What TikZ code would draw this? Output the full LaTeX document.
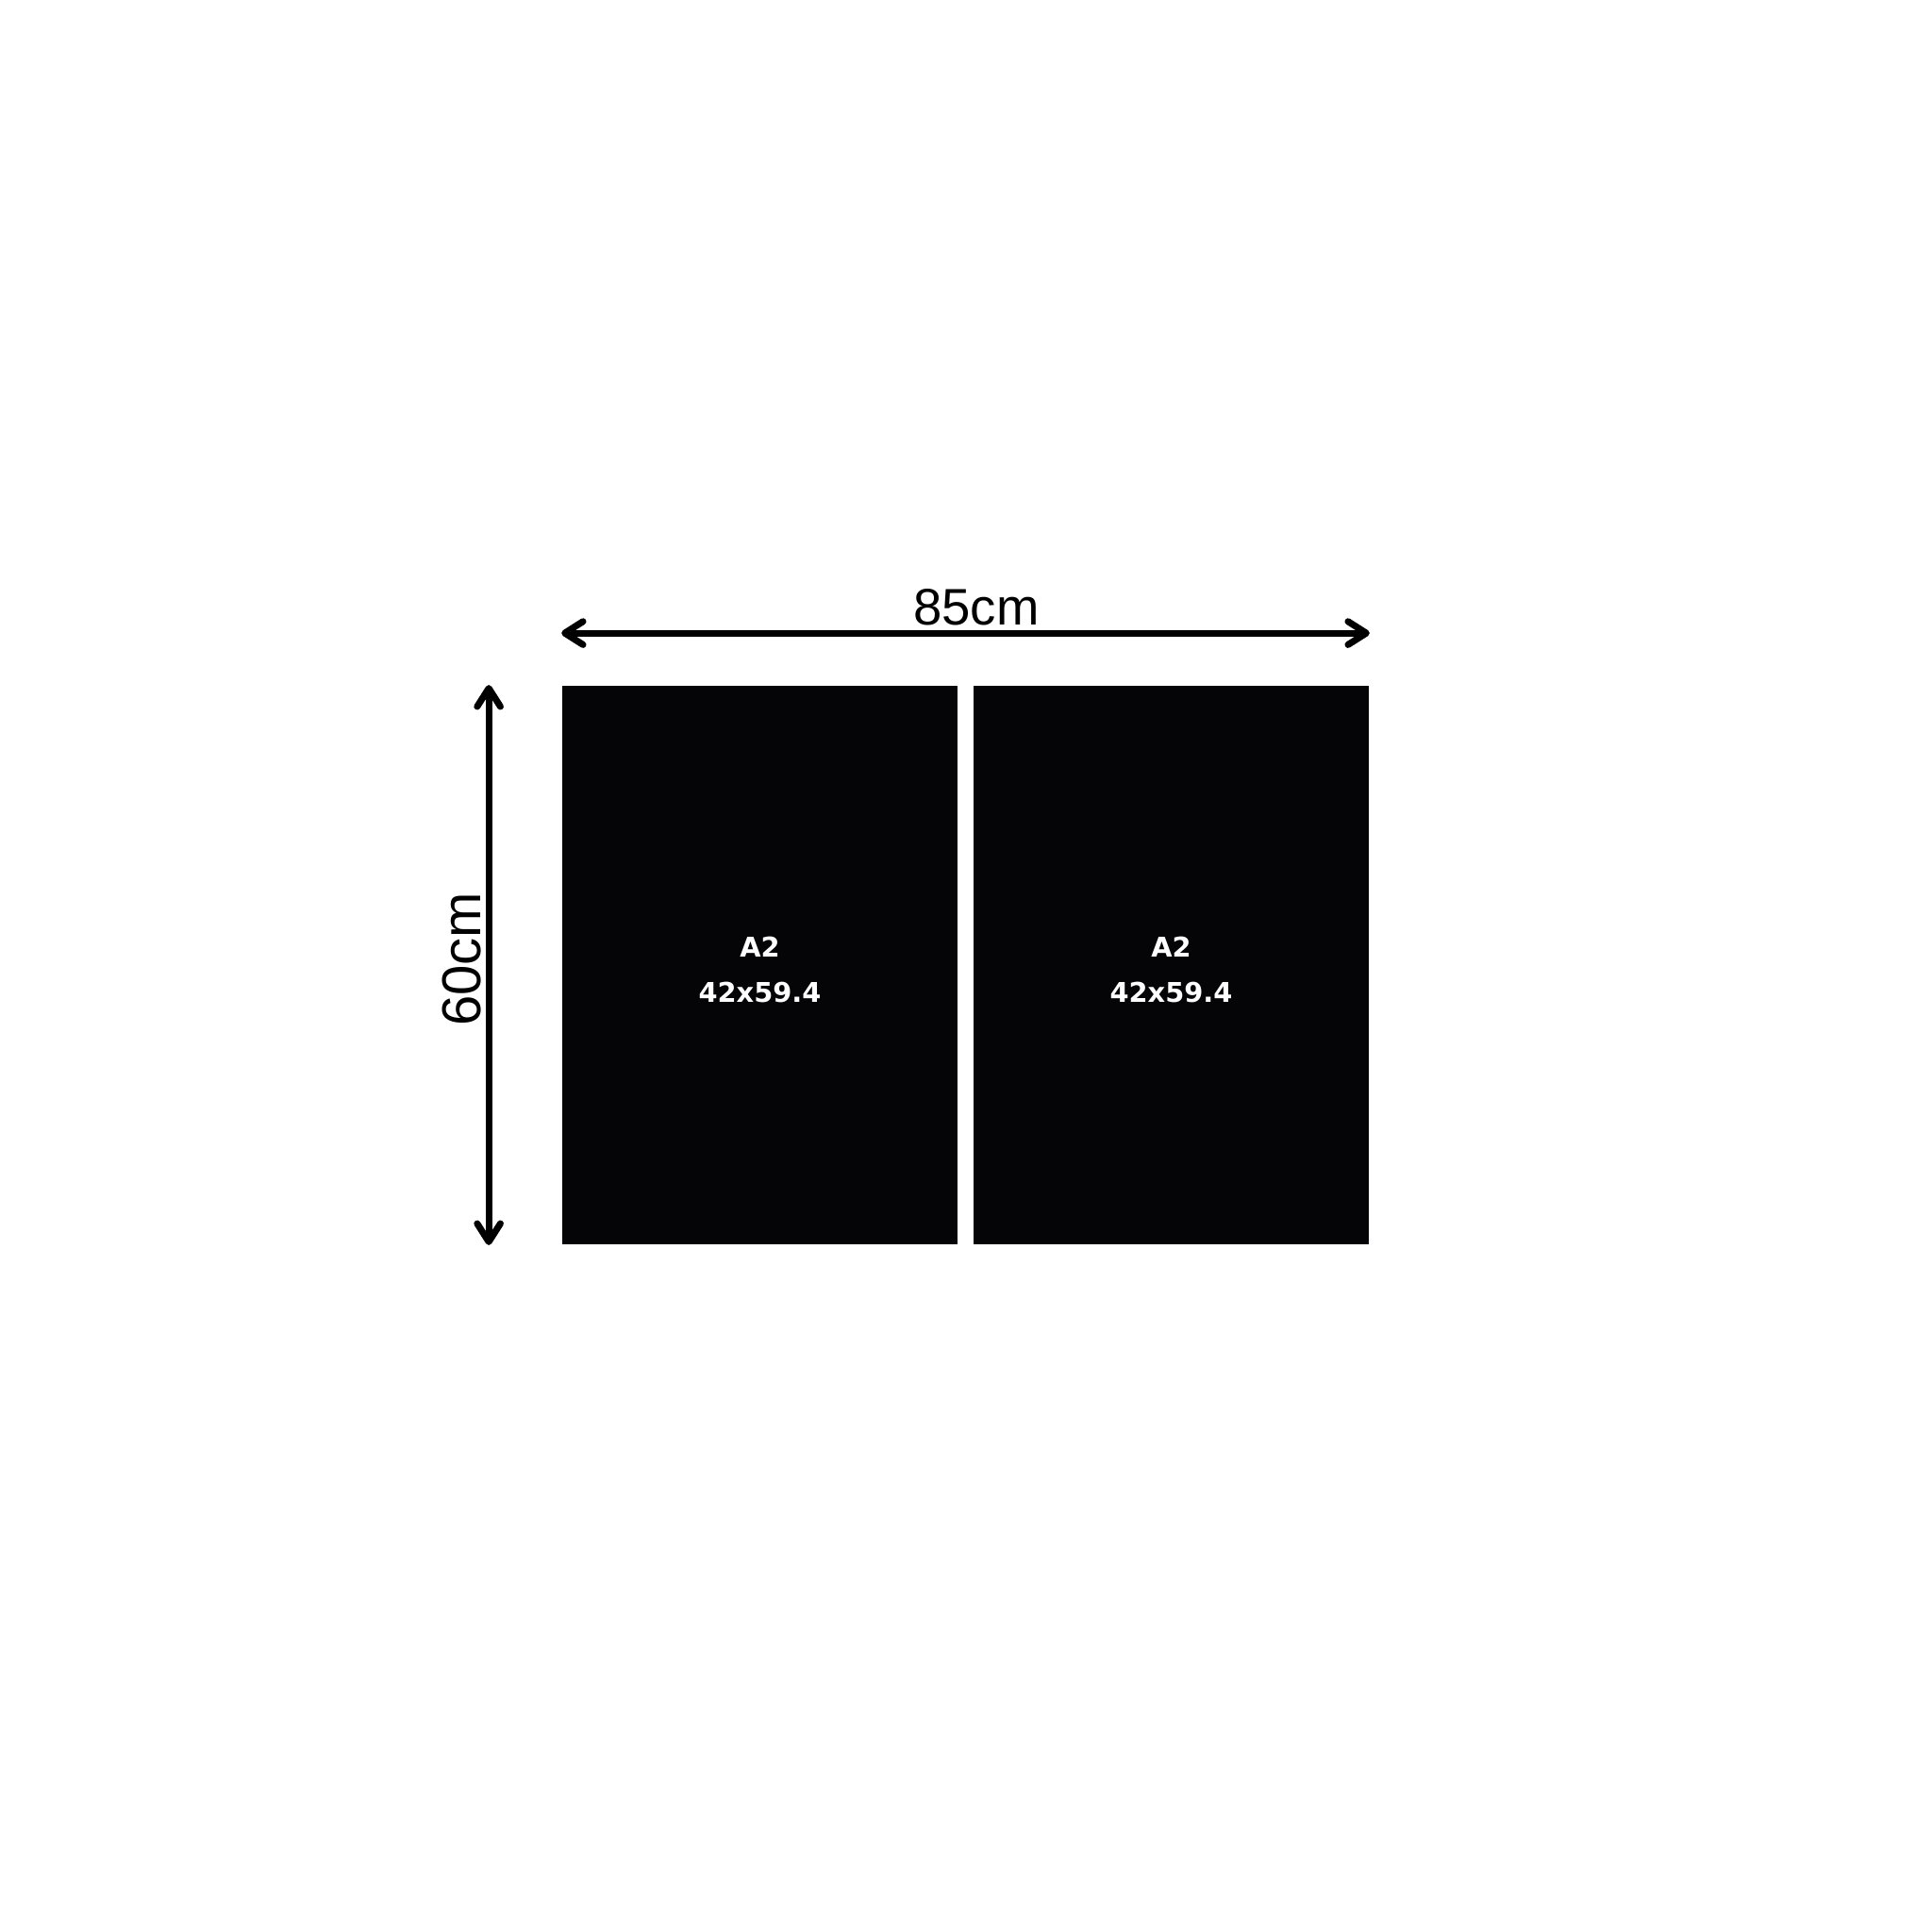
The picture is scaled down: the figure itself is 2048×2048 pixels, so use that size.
\documentclass[tikz,border=0pt]{standalone}
\usepackage{fontspec}
\setmainfont{Liberation Sans}
\newfontfamily\panelfont{DejaVu Sans}
\usetikzlibrary{arrows.meta}
\definecolor{panelblack}{HTML}{050508}

\begin{document}
\begin{tikzpicture}[x=0.01cm, y=-0.01cm,
    panel/.style={fill=panelblack, minimum width=4.19cm, minimum height=5.92cm, inner sep=0pt},
    sheetlabel/.style={text=white, inner sep=0pt, align=center,
        font=\panelfont\bfseries\fontsize{8.2}{13.4}\selectfont},
    dimline/.style={line width=2pt,
        {Straight Barb[length=5.5pt, width=7pt, round]}-{Straight Barb[length=5.5pt, width=7pt, round]}},
    dimlabel/.style={inner sep=0pt, anchor=base}
  ]
    % Page and margins
    \fill[white] (0,0) rectangle (2048,2048);
    \useasboundingbox (0,0) rectangle (2048,2048);

    % The two A2 sheets
    \node[panel] (left) at (805.5,1023) {};
    \node[panel] (right) at (1241.5,1023) {};
    \node[sheetlabel] (leftlabel) at ([yshift=-0.05cm]left.center) {A2\\42x59.4};
    \node[sheetlabel] (rightlabel) at ([yshift=-0.05cm]right.center) {A2\\42x59.4};

    % Total width
    \coordinate (wl) at ([yshift=0.55cm]left.north west);
    \coordinate (wr) at ([yshift=0.55cm]right.north east);
    \draw[dimline] (wl) -- (wr);
    \node[dimlabel, font=\fontsize{15.5}{18}\selectfont] (wlabel) at (1035,662) {85cm};

    % Total height
    \coordinate (ht) at ([xshift=-0.77cm]left.north west);
    \coordinate (hb) at ([xshift=-0.77cm]left.south west);
    \draw[dimline] (ht) -- (hb);
    \node[dimlabel, rotate=90, font=\fontsize{16.5}{19}\selectfont] (hlabel) at (509,1017) {60cm};
\end{tikzpicture}
\end{document}
